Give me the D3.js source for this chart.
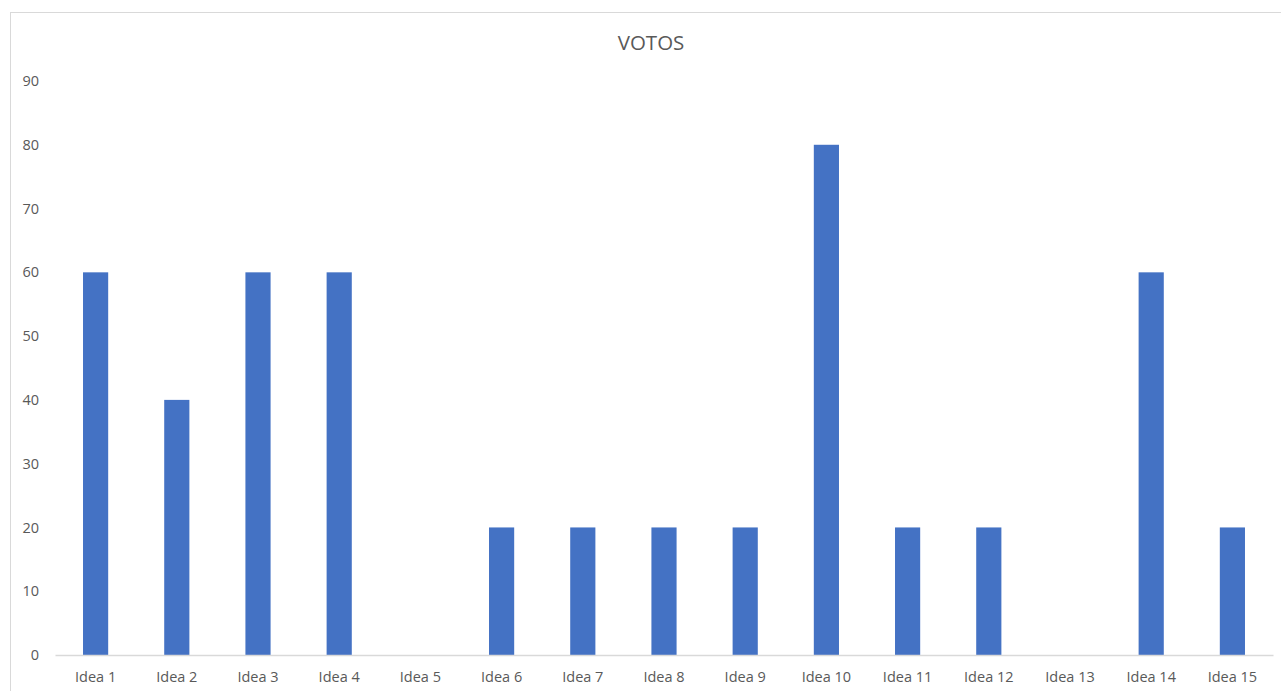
<!DOCTYPE html>
<html>
<head>
<meta charset="utf-8">
<script src="https://cdn.jsdelivr.net/npm/d3@7"></script>
<style>
  html, body { margin: 0; padding: 0; background: #fff; }
  svg { display: block; }
</style>
</head>
<body>
<svg id="chart" width="1281" height="691"></svg>
<script>
// Votes per idea
const categories = ["Idea 1","Idea 2","Idea 3","Idea 4","Idea 5","Idea 6","Idea 7","Idea 8","Idea 9","Idea 10","Idea 11","Idea 12","Idea 13","Idea 14","Idea 15"];
const votes = [60, 40, 60, 60, 0, 20, 20, 20, 20, 80, 20, 20, 0, 60, 20];
const yTicks = [0, 10, 20, 30, 40, 50, 60, 70, 80, 90];
const title = "VOTOS";

const svg = d3.select("#chart");
const font = "'Open Sans', 'Segoe UI', sans-serif";
const textColor = "#595959";

// chart frame
svg.append("rect")
  .attr("x", 10.5).attr("y", 12.5)
  .attr("width", 1300).attr("height", 700)
  .attr("fill", "#fff").attr("stroke", "#d9d9d9").attr("stroke-width", 1);

const plot = { left: 55, right: 1273, top: 81, bottom: 655 };

const x = d3.scaleBand()
  .domain(categories)
  .range([plot.left, plot.right])
  .paddingInner(0.69)
  .paddingOuter(0.345);

const y = d3.scaleLinear()
  .domain([0, 90])
  .range([plot.bottom, plot.top]);

// title
svg.append("text")
  .attr("x", 651).attr("y", 50)
  .attr("text-anchor", "middle")
  .attr("font-family", font)
  .attr("font-size", 20.5)
  .attr("fill", textColor)
  .text(title);

// bars
svg.append("g").selectAll("rect")
  .data(votes)
  .join("rect")
  .attr("x", (d, i) => x(categories[i]))
  .attr("y", d => y(d))
  .attr("width", x.bandwidth())
  .attr("height", d => y(0) - y(d))
  .attr("fill", "#4472C4");

// y axis (labels only)
const yAxis = d3.axisLeft(y).tickValues(yTicks).tickSize(0).tickPadding(0);
const gy = svg.append("g")
  .attr("transform", `translate(${39},0)`)
  .call(yAxis);
gy.select(".domain").remove();
gy.selectAll("text")
  .attr("font-family", font)
  .attr("font-size", 14.5)
  .attr("fill", textColor);

// x axis
const xAxis = d3.axisBottom(x).tickSize(0).tickPadding(17);
const gx = svg.append("g")
  .attr("transform", `translate(0,${plot.bottom})`)
  .call(xAxis);
gx.select(".domain")
  .attr("stroke", "#d9d9d9")
  .attr("stroke-width", 1.5);
gx.selectAll("text")
  .attr("font-family", font)
  .attr("font-size", 14.5)
  .attr("fill", textColor);
</script>
</body>
</html>
